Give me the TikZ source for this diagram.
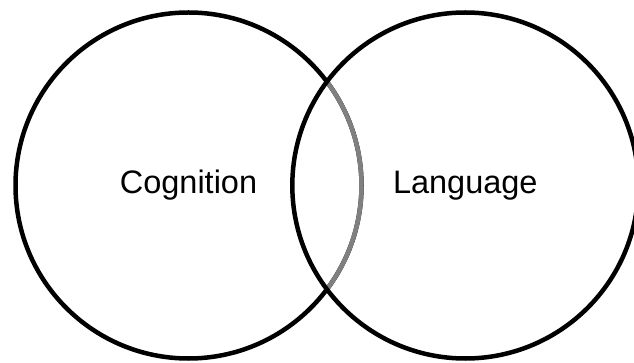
\documentclass[tikz,border=0pt]{standalone}
\usepackage{fontspec}
\setmainfont{Liberation Sans}
\begin{document}
\begin{tikzpicture}[x=1pt,y=-1pt,
  setring/.style={circle, draw=black, line width=4.5pt, minimum size=346pt, inner sep=0pt, outer sep=0pt,
    font=\fontsize{32.5}{38}\selectfont}]
  \useasboundingbox (0,0) rectangle (634,363);
  % left set
  \node[setring] (cog) at (188.5,185.5) {Cognition};
  % part of the left ring that lies inside the right set
  \draw[line width=4.5pt, color=black!50] (cog.center) ++(-36.87:173pt)
    arc[start angle=-36.87, end angle=36.87, radius=173pt];
  % right set
  \node[setring] (lang) at (465.3,185.5) {Language};
\end{tikzpicture}
\end{document}
